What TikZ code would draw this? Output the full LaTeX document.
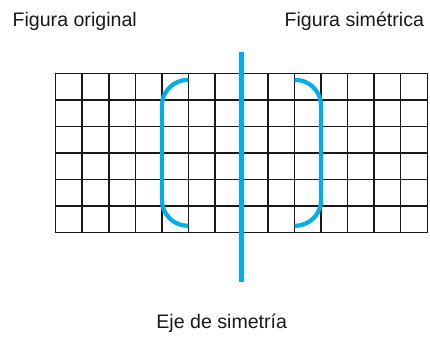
\documentclass[tikz,border=0pt]{standalone}
\usepackage{fontspec}
\setmainfont{Liberation Sans}
\usetikzlibrary{positioning, calc}
\definecolor{azulsim}{RGB}{0,174,239}
\tikzstyle{rotulo} = [inner sep=0pt, anchor=base, font=\fontsize{19.6}{23}\selectfont, text=black!90]
\tikzstyle{malla} = [line width=1.5pt, draw=black!90]
\tikzstyle{trazo} = [line width=4.2pt, draw=azulsim]

\begin{document}
\begin{tikzpicture}[x=26.54pt, y=26.54pt]
    \useasboundingbox (-2.099,-3.930) rectangle (14.103,8.768);
    % Cuadricula
    \draw [malla, step=1] (0,0) grid (14,6);
    % Eje de simetria
    \coordinate (ejesup) at (7,6.80);
    \coordinate (ejeinf) at (7,-1.85);
    \draw [trazo] (ejesup) -- (ejeinf);
    % Figuras
    \draw [trazo, rounded corners=26pt] (5,5.76) -- (4,5.76) -- (4,0.26) -- (5,0.26);
    \draw [trazo, rounded corners=26pt] (9,5.76) -- (10,5.76) -- (10,0.26) -- (9,0.26);
    % Textos
    \node (orig) [rotulo] at (0.716,7.76) {Figura original};
    \node (sim)  [rotulo] at (11.25,7.76) {Figura simétrica};
    \node (eje)  [rotulo] at (6.255,-3.60) {Eje de simetría};
\end{tikzpicture}
\end{document}
